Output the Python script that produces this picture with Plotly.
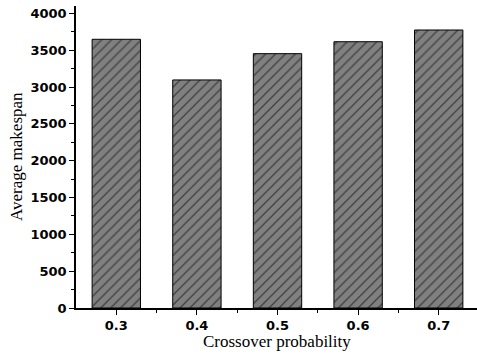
import plotly.graph_objects as go

categories = [0.3, 0.4, 0.5, 0.6, 0.7]
tick_labels = ["0.3", "0.4", "0.5", "0.6", "0.7"]
makespan = [3648, 3096, 3453, 3615, 3774]
y_ticks = [0, 500, 1000, 1500, 2000, 2500, 3000, 3500, 4000]

fig = go.Figure(go.Bar(
    x=categories, y=makespan, width=0.06,
    marker=dict(color="#808080", line=dict(color="black", width=1),
                pattern=dict(shape="/", fgcolor="black", bgcolor="#808080",
                             size=7, solidity=0.18)),
))

tickfont = dict(family="DejaVu Sans", size=13, color="black", weight="bold")
titlefont = dict(family="Liberation Serif", size=17, color="black")

fig.update_layout(
    width=477, height=354,
    margin=dict(l=76, r=0, t=6, b=46),
    paper_bgcolor="white", plot_bgcolor="white",
    showlegend=False,
    xaxis=dict(range=[0.25, 0.7475], tickvals=categories, ticktext=tick_labels,
               ticks="outside", ticklen=5, tickwidth=1.2, tickcolor="black",
               showline=True, linecolor="black", linewidth=1.5, automargin=False,
               showgrid=False, zeroline=False, tickfont=tickfont,
               minor=dict(tickvals=[0.35, 0.45, 0.55, 0.65], ticks="outside", ticklen=3,
                          tickcolor="black", tickwidth=1.2, showgrid=False)),
    yaxis=dict(range=[0, 4100], tickvals=y_ticks,
               ticks="outside", ticklen=5, tickwidth=1.2, tickcolor="black",
               showline=True, linecolor="black", linewidth=1.5, automargin=False,
               showgrid=False, zeroline=False, tickfont=tickfont,
               minor=dict(dtick=250, tick0=0, ticks="outside", ticklen=3,
                          tickcolor="black", tickwidth=1.2, showgrid=False)),
    annotations=[
        dict(text="Crossover probability", font=titlefont, showarrow=False,
             xref="paper", yref="paper", x=0.5, y=0, xanchor="center", yanchor="middle",
             yshift=-33),
        dict(text="Average makespan", font=titlefont, showarrow=False, textangle=-90,
             xref="paper", yref="paper", x=0, y=0.5, xanchor="center", yanchor="middle",
             xshift=-60),
    ],
)

fig.write_html("out.html", config={"displayModeBar": False},
               post_script="document.body.style.margin='0';document.body.style.overflow='hidden';")
